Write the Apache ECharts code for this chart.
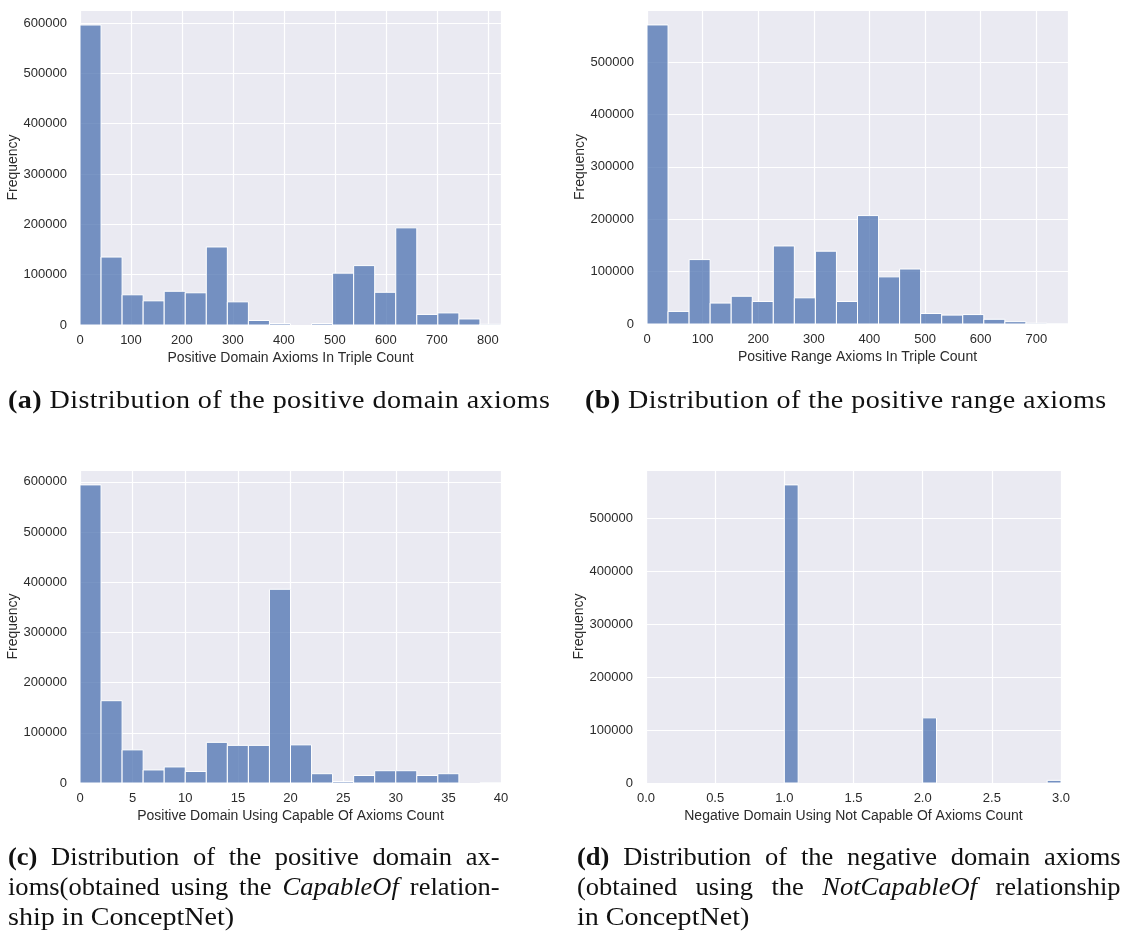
<!DOCTYPE html>
<html>
<head>
<meta charset="utf-8">
<script src="https://cdn.jsdelivr.net/npm/echarts@6/dist/echarts.min.js"></script>
<style>
  html, body { margin: 0; padding: 0; background: #ffffff; }
  #chart { position: absolute; left: 0; top: 0; width: 1123px; height: 935px; }
  .cap {
    position: absolute;
    font-family: "Liberation Serif", "Times New Roman", serif;
    font-size: 26px;
    line-height: 30px;
    letter-spacing: 0.4px;
    color: #111111;
    white-space: nowrap;
    transform: scaleX(1.08);
    transform-origin: 0 0;
  }
  /* justified caption lines: words spread across the full column width */
  .just { display: flex; justify-content: space-between; letter-spacing: 0; transform: scaleX(1.02); }
</style>
</head>
<body>
<div id="chart"></div>

<div class="cap" style="left:8px; top:385px;"><b>(a)</b> Distribution of the positive domain axioms</div>
<div class="cap" style="left:585px; top:385px;"><b>(b)</b> Distribution of the positive range axioms</div>

<div class="cap just" style="left:8px; top:842px; width:482px;"><b>(c)</b> <span>Distribution</span> <span>of</span> <span>the</span> <span>positive</span> <span>domain</span> <span>ax-</span></div>
<div class="cap just" style="left:8px; top:872px; width:482px;"><span>ioms(obtained</span> <span>using</span> <span>the</span> <i>CapableOf</i> <span>relation-</span></div>
<div class="cap" style="left:8px; top:902px; letter-spacing:0;">ship in ConceptNet)</div>

<div class="cap just" style="left:577px; top:842px; width:533px;"><b>(d)</b> <span>Distribution</span> <span>of</span> <span>the</span> <span>negative</span> <span>domain</span> <span>axioms</span></div>
<div class="cap just" style="left:577px; top:872px; width:533px;"><span>(obtained</span> <span>using</span> <span>the</span> <i>NotCapableOf</i> <span>relationship</span></div>
<div class="cap" style="left:577px; top:902px; letter-spacing:0;">in ConceptNet)</div>

<script>
// ---- histogram data (bin start, bin width, counts per bin) ----
const domainBinStart = 0;
const domainBinWidth = 41.29;
const domainCounts = [596000, 135000, 60000, 48000, 67000, 64000, 155000, 46000, 9000, 3000,
                      0, 3000, 103000, 118000, 65000, 193000, 21000, 24000, 12000, 1500];

const rangeBinStart = 0;
const rangeBinWidth = 37.85;
const rangeCounts = [571000, 24000, 123000, 40000, 53000, 43000, 149000, 50000, 139000, 43000,
                     207000, 90000, 105000, 20000, 17000, 18000, 9000, 4500, 1500, 500];

const capableBinStart = 0;
const capableBinWidth = 2;
const capableCounts = [594000, 164000, 66000, 26000, 32000, 23000, 81000, 75000, 75000, 386000,
                       76000, 18500, 3000, 15000, 24500, 24500, 15000, 18500, 0, 300];

const notCapableBinWidth = 0.1;
const notCapableBinStarts = [1.0, 2.0, 2.9];
const notCapableCounts = [563000, 123000, 5000];

// ---- axis titles ----
const xTitles = [
  'Positive Domain Axioms In Triple Count',
  'Positive Range Axioms In Triple Count',
  'Positive Domain Using Capable Of Axioms Count',
  'Negative Domain Using Not Capable Of Axioms Count'
];
const yTitle = 'Frequency';

const FONT = '"Liberation Sans", Arial, sans-serif';
const TEXT = '#2b2b2b';
const BAR_FILL = 'rgba(76,114,176,0.75)';

function rowsFromRegular(start, width, counts) {
  return counts.map((c, i) => [start + i * width, start + (i + 1) * width, c]);
}
function rowsFromStarts(starts, width, counts) {
  return starts.map((s, i) => [s, s + width, counts[i]]);
}

const panels = [
  { rows: rowsFromRegular(domainBinStart, domainBinWidth, domainCounts),
    xMax: domainBinStart + domainBinWidth * domainCounts.length, xInterval: 100, xMaxLabel: false,
    xFmt: v => String(Math.round(v)),
    grid: { left: 80, top: 10, width: 421, height: 315 } },
  { rows: rowsFromRegular(rangeBinStart, rangeBinWidth, rangeCounts),
    xMax: rangeBinStart + rangeBinWidth * rangeCounts.length, xInterval: 100, xMaxLabel: false,
    xFmt: v => String(Math.round(v)),
    grid: { left: 647, top: 10, width: 421, height: 314 } },
  { rows: rowsFromRegular(capableBinStart, capableBinWidth, capableCounts),
    xMax: capableBinStart + capableBinWidth * capableCounts.length, xInterval: 5, xMaxLabel: true,
    xFmt: v => String(Math.round(v)),
    grid: { left: 80, top: 470, width: 421, height: 313 } },
  { rows: rowsFromStarts(notCapableBinStarts, notCapableBinWidth, notCapableCounts),
    xMax: 3, xInterval: 0.5, xMaxLabel: true,
    xFmt: v => v.toFixed(1),
    grid: { left: 646, top: 470, width: 415, height: 313 } }
];

const grids = [], xAxes = [], yAxes = [], series = [];

panels.forEach((p, i) => {
  const yMax = Math.max(...p.rows.map(r => r[2])) * 1.05;
  grids.push(Object.assign({
    show: true, backgroundColor: '#EAEAF2', borderWidth: 0, containLabel: false
  }, p.grid));

  xAxes.push({
    type: 'value', gridIndex: i, min: 0, max: p.xMax, interval: p.xInterval,
    name: xTitles[i], nameLocation: 'middle', nameGap: 26,
    nameTextStyle: { fontFamily: FONT, fontSize: 14, color: TEXT },
    axisLine: { show: false }, axisTick: { show: false },
    axisLabel: { margin: 9, fontFamily: FONT, fontSize: 13, color: TEXT,
                 showMaxLabel: p.xMaxLabel, formatter: p.xFmt },
    splitLine: { show: true, lineStyle: { color: '#ffffff', width: 1.2 } }
  });

  yAxes.push({
    type: 'value', gridIndex: i, min: 0, max: yMax, interval: 100000,
    name: yTitle, nameLocation: 'middle', nameRotate: 90, nameGap: 59,
    nameTextStyle: { fontFamily: FONT, fontSize: 14, color: TEXT },
    axisLine: { show: false }, axisTick: { show: false },
    axisLabel: { margin: 13, fontFamily: FONT, fontSize: 13, color: TEXT,
                 showMaxLabel: false, formatter: v => String(Math.round(v)) },
    splitLine: { show: true, lineStyle: { color: '#ffffff', width: 1.2 } }
  });

  series.push({
    type: 'custom', xAxisIndex: i, yAxisIndex: i,
    data: p.rows,
    encode: { x: [0, 1], y: 2 },
    clip: true,
    renderItem: function (params, api) {
      const count = api.value(2);
      if (!count) return null;
      const topLeft = api.coord([api.value(0), count]);
      const bottomRight = api.coord([api.value(1), 0]);
      return {
        type: 'rect',
        shape: { x: topLeft[0], y: topLeft[1],
                 width: bottomRight[0] - topLeft[0], height: bottomRight[1] - topLeft[1] },
        style: { fill: BAR_FILL, stroke: '#ffffff', lineWidth: 1 }
      };
    }
  });
});

const chart = echarts.init(document.getElementById('chart'), null, { renderer: 'canvas' });
chart.setOption({
  animation: false,
  backgroundColor: '#ffffff',
  grid: grids,
  xAxis: xAxes,
  yAxis: yAxes,
  series: series
});
</script>
</body>
</html>
